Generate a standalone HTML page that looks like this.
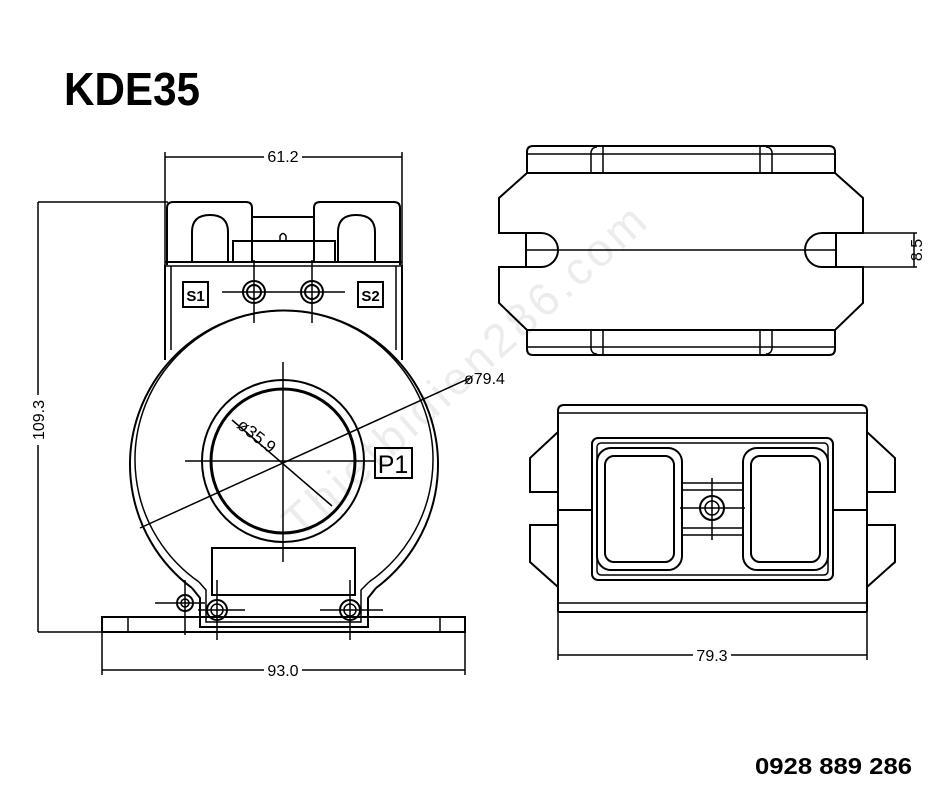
<!DOCTYPE html>
<html><head><meta charset="utf-8"><style>
html,body{margin:0;padding:0;background:#fff;}
svg{display:block;}
text{font-family:"Liberation Sans",sans-serif;}
</style></head><body>
<svg width="940" height="788" viewBox="0 0 940 788" xmlns="http://www.w3.org/2000/svg">
<rect width="940" height="788" fill="#fff"/>
<text x="300" y="540" transform="rotate(-42 300 540)" font-size="46" fill="#ececec" textLength="470">Thietbidien286.com</text>
<text x="64" y="105" font-size="46" font-weight="bold" fill="#000" textLength="136" lengthAdjust="spacingAndGlyphs">KDE35</text>
<text x="755" y="774" font-size="23" font-weight="bold" fill="#000" textLength="157" lengthAdjust="spacingAndGlyphs">0928 889 286</text>

<g fill="none" stroke="#000" stroke-width="2">
<line x1="165" y1="157" x2="402" y2="157" stroke-width="1.5"/>
<line x1="165" y1="152" x2="165" y2="265" stroke-width="1.5"/>
<line x1="402" y1="152" x2="402" y2="265" stroke-width="1.5"/>
<line x1="38" y1="202" x2="38" y2="632" stroke-width="1.5"/>
<line x1="38" y1="202" x2="168" y2="202" stroke-width="1.5"/>
<line x1="38" y1="632" x2="102" y2="632" stroke-width="1.5"/>
<line x1="102" y1="670" x2="465" y2="670" stroke-width="1.5"/>
<line x1="102" y1="632" x2="102" y2="675" stroke-width="1.5"/>
<line x1="465" y1="632" x2="465" y2="675" stroke-width="1.5"/>

<path d="M167 265 V208 Q167 202 173 202 H246 Q252 202 252 208 V217 H314 V208 Q314 202 320 202 H394 Q400 202 400 208 V265"/>
<line x1="252" y1="217" x2="252" y2="262"/>
<line x1="314" y1="217" x2="314" y2="262"/>
<path d="M233 262 V241 H335 V262"/>
<path d="M280 241 V236 Q283 231 286 236 V241" stroke-width="1.5"/>
<path d="M192 262 V232 Q192 215 210 215 Q228 215 228 232 V262"/>
<path d="M338 262 V232 Q338 215 356 215 Q375 215 375 232 V262"/>
<line x1="165" y1="262" x2="402" y2="262"/>
<line x1="165" y1="266" x2="402" y2="266" stroke-width="1.5"/>
<line x1="165" y1="265" x2="165" y2="360"/>
<line x1="402" y1="265" x2="402" y2="360"/>
<line x1="171" y1="266" x2="171" y2="350" stroke-width="1.5"/>
<line x1="396" y1="266" x2="396" y2="350" stroke-width="1.5"/>
<rect x="183" y="282" width="25" height="25"/>
<rect x="358" y="282" width="25" height="25"/>
<text x="195.5" y="301" font-size="15" font-weight="bold" text-anchor="middle" fill="#000" stroke="none">S1</text>
<text x="370.5" y="301" font-size="15" font-weight="bold" text-anchor="middle" fill="#000" stroke="none">S2</text>
<line x1="222" y1="292" x2="345" y2="292" stroke-width="1.5"/>
<line x1="254" y1="260" x2="254" y2="323" stroke-width="1.5"/>
<line x1="312" y1="260" x2="312" y2="323" stroke-width="1.5"/>
<circle cx="254" cy="292" r="11"/><circle cx="254" cy="292" r="7"/>
<circle cx="312" cy="292" r="11"/><circle cx="312" cy="292" r="7"/>

<path d="M192 588 A154 154 0 1 1 376 588"/>
<path d="M199 582 A149 149 0 1 1 369 582" stroke-width="1.5"/>
<path d="M192 588 L200 598 V627 H368 V598 L376 588" />
<path d="M199 582 L206 590 V622 H361 V590 L369 582" stroke-width="1.5"/>
<circle cx="283" cy="461" r="81"/>
<circle cx="283" cy="461" r="72" stroke-width="3"/>
<line x1="283" y1="362" x2="283" y2="562" stroke-width="1.5"/>
<line x1="185" y1="461" x2="375" y2="461" stroke-width="1.5"/>
<line x1="140" y1="528" x2="470" y2="378" stroke-width="1.5"/>
<line x1="232" y1="420" x2="332" y2="506" stroke-width="1.5"/>
<text x="236" y="427" font-size="17" fill="#000" stroke="none" transform="rotate(38 236 427)">ø35.9</text>
<text x="464" y="384" font-size="16" fill="#000" stroke="none">ø79.4</text>
<rect x="375" y="448" width="37" height="30"/>
<text x="393" y="473" font-size="25" text-anchor="middle" fill="#000" stroke="none">P1</text>
<rect x="212" y="548" width="143" height="47"/>
<rect x="102" y="617" width="363" height="15"/>
<line x1="128" y1="617" x2="128" y2="632" stroke-width="1.5"/>
<line x1="440" y1="617" x2="440" y2="632" stroke-width="1.5"/>
<circle cx="185" cy="603" r="8"/><circle cx="185" cy="603" r="4" stroke-width="1.5"/>
<circle cx="217" cy="610" r="10"/><circle cx="217" cy="610" r="6" stroke-width="1.5"/>
<circle cx="350" cy="610" r="10"/><circle cx="350" cy="610" r="6" stroke-width="1.5"/>
<line x1="155" y1="603" x2="205" y2="603" stroke-width="1.5"/>
<line x1="185" y1="580" x2="185" y2="635" stroke-width="1.5"/>
<line x1="198" y1="610" x2="245" y2="610" stroke-width="1.5"/>
<line x1="217" y1="580" x2="217" y2="640" stroke-width="1.5"/>
<line x1="320" y1="610" x2="383" y2="610" stroke-width="1.5"/>
<line x1="350" y1="580" x2="350" y2="640" stroke-width="1.5"/>

<path d="M527 173 V152 Q527 146 533 146 H829 Q835 146 835 152 V173"/>
<line x1="527" y1="154" x2="835" y2="154" stroke-width="1.5"/>
<path d="M591 173 V152 Q592 147 597 147 M603 173 V147" stroke-width="1.5"/>
<path d="M760 173 V147 M772 173 V152 Q771 147 766 147" stroke-width="1.5"/>
<path d="M527 330 V349 Q527 355 533 355 H829 Q835 355 835 349 V330"/>
<line x1="527" y1="347" x2="835" y2="347" stroke-width="1.5"/>
<path d="M591 330 V349 Q592 354 597 354 M603 330 V354" stroke-width="1.5"/>
<path d="M760 330 V354 M772 330 V349 Q771 354 766 354" stroke-width="1.5"/>
<path d="M527 173 H835 L863 198 V233 H836 M836 267 H863 V303 L835 330 H527 L499 303 V267 H526 M526 233 H499 V198 L527 173"/>
<path d="M526 233 H541 A17 17 0 0 1 541 267 H526 Z"/>
<path d="M836 233 H822 A17 17 0 0 0 822 267 H836 Z"/>
<line x1="526" y1="250" x2="836" y2="250" stroke-width="1.5"/>
<line x1="836" y1="233" x2="917" y2="233" stroke-width="1.5"/>
<line x1="836" y1="267" x2="917" y2="267" stroke-width="1.5"/>
<line x1="914" y1="233" x2="914" y2="267" stroke-width="1.5"/>
<text x="922" y="250" font-size="16" text-anchor="middle" fill="#000" stroke="none" transform="rotate(-90 922 250)">8.5</text>

<path d="M558 612 V411 Q558 405 564 405 H861 Q867 405 867 411 V612"/>
<line x1="558" y1="413" x2="867" y2="413" stroke-width="1.5"/>
<line x1="558" y1="603" x2="867" y2="603" stroke-width="1.5"/>
<line x1="558" y1="612" x2="867" y2="612"/>
<path d="M558 432 L530 458 V492 H558"/>
<path d="M558 525 H530 V562 L558 587"/>
<path d="M867 432 L895 458 V492 H867"/>
<path d="M867 525 H895 V562 L867 587"/>
<line x1="558" y1="510" x2="592" y2="510"/>
<line x1="833" y1="510" x2="867" y2="510"/>
<rect x="592" y="438" width="241" height="142" rx="6"/>
<rect x="597" y="443" width="231" height="132" rx="4" stroke-width="1.5"/>
<rect x="597" y="448" width="85" height="122" rx="14"/>
<rect x="605" y="456" width="69" height="106" rx="9"/>
<rect x="743" y="448" width="85" height="122" rx="14"/>
<rect x="751" y="456" width="69" height="106" rx="9"/>
<line x1="682" y1="483" x2="743" y2="483" stroke-width="1.5"/>
<line x1="682" y1="490" x2="743" y2="490" stroke-width="1.5"/>
<line x1="682" y1="528" x2="743" y2="528" stroke-width="1.5"/>
<line x1="682" y1="535" x2="743" y2="535" stroke-width="1.5"/>
<circle cx="712" cy="508" r="12"/><circle cx="712" cy="508" r="7" stroke-width="1.5"/>
<line x1="680" y1="508" x2="745" y2="508" stroke-width="1.5"/>
<line x1="712" y1="478" x2="712" y2="540" stroke-width="1.5"/>
<line x1="558" y1="612" x2="558" y2="660" stroke-width="1.5"/>
<line x1="867" y1="612" x2="867" y2="660" stroke-width="1.5"/>
<line x1="558" y1="655" x2="867" y2="655" stroke-width="1.5"/>
</g>
<rect x="264" y="148" width="38" height="14" fill="#fff"/>
<text x="283" y="162" font-size="16" text-anchor="middle">61.2</text>
<rect x="264" y="662" width="38" height="14" fill="#fff"/>
<text x="283" y="676" font-size="16" text-anchor="middle">93.0</text>
<rect x="693" y="647" width="38" height="14" fill="#fff"/>
<text x="712" y="661" font-size="16" text-anchor="middle">79.3</text>
<rect x="31" y="395" width="14" height="50" fill="#fff"/>
<text x="44" y="420" font-size="16" text-anchor="middle" transform="rotate(-90 44 420)">109.3</text>
</svg>
</body></html>
